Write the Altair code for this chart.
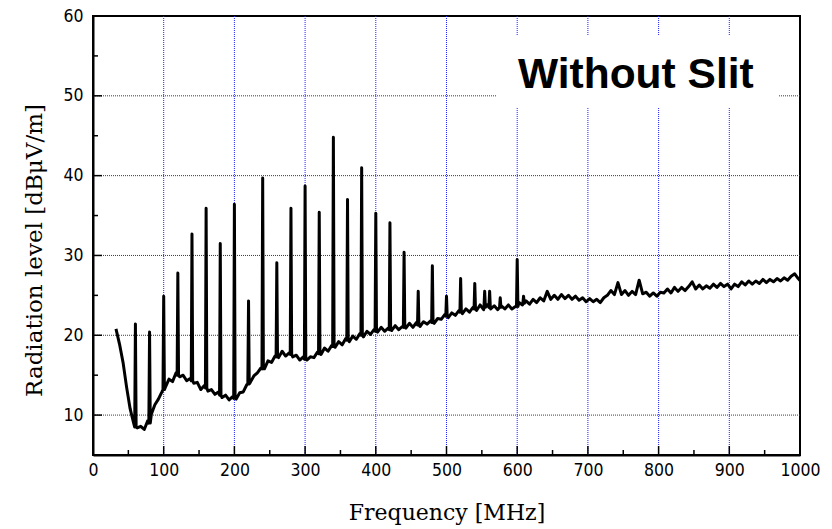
import altair as alt
import numpy as np
import pandas as pd

# Background trace, sampled every 5 MHz starting at 32.5 MHz (dBuV/m)
base_level = [
    20.8, 18.9, 16.6, 13.5, 10.8, 9.0, 8.4, 8.6, 8.2, 9.3,
    10.1, 11.3, 12.0, 12.9, 13.5, 14.5, 14.2, 15.3, 14.8, 15.0,
    14.3, 14.6, 14.0, 14.1, 13.2, 13.7, 13.0, 13.2, 12.6, 12.9,
    12.2, 12.5, 11.9, 12.3, 12.0, 12.8, 12.9, 13.8, 14.1, 14.9,
    15.3, 15.9, 15.8, 16.8, 16.6, 17.4, 17.2, 18.0, 17.4, 17.8,
    17.3, 17.5, 16.9, 17.3, 16.9, 17.3, 17.2, 17.9, 17.6, 18.4,
    18.0, 18.7, 18.5, 19.2, 18.8, 19.6, 19.2, 19.9, 19.5, 20.2,
    19.8, 20.5, 20.1, 20.7, 20.4, 21.0, 20.5, 20.9, 20.6, 21.2,
    20.7, 21.1, 20.9, 21.5, 21.0, 21.6, 21.1, 21.7, 21.4, 21.8,
    21.5, 22.1, 22.0, 22.6, 22.2, 22.8, 22.5, 23.1, 22.7, 23.3,
    22.9, 23.5, 23.1, 23.8, 23.2, 23.8, 23.3, 23.7, 23.2, 23.7,
    23.3, 23.8, 23.3, 23.6, 24.1, 23.8, 24.3, 23.9, 24.5, 24.1,
    24.7, 24.3, 25.5, 24.5, 25.0, 24.5, 25.1, 24.6, 25.0, 24.5,
    24.9, 24.4, 24.7, 24.2, 24.6, 24.2, 24.5, 24.1, 24.7, 25.0,
    25.6, 25.1, 26.6, 25.1, 25.6, 25.0, 25.5, 25.1, 26.9, 25.2,
    25.4, 24.9, 25.3, 24.9, 25.4, 25.3, 25.8, 25.3, 26.0, 25.5,
    26.0, 25.6, 26.1, 26.7, 25.8, 26.3, 25.8, 26.2, 25.9, 26.4,
    26.0, 26.5, 26.1, 26.4, 25.8, 26.4, 26.1, 26.7, 26.3, 26.8,
    26.4, 26.8, 26.5, 27.0, 26.6, 27.0, 26.7, 27.1, 26.8, 27.2,
    26.9, 27.4, 27.7, 27.1, 26.6,
]
base_start = 32.5
base_step = 5.0

# Harmonic spikes (MHz, peak dBuV/m, level at the spike's foot)
peak_freq = [60, 80, 100, 120, 140, 160, 180, 200, 220, 240, 260, 280, 300,
             320, 340, 360, 380, 400, 420, 440, 460, 480, 500, 520, 540,
             554, 561, 576, 600, 609]
peak_level = [21.4, 20.4, 24.9, 27.8, 32.7, 35.9, 31.5, 36.4, 24.3, 39.7,
              29.1, 35.9, 38.7, 35.4, 44.8, 37.0, 41.0, 35.3, 34.1, 30.4,
              25.5, 28.7, 24.9, 27.1, 26.5, 25.5, 25.5, 24.7, 29.5, 24.9]
peak_foot = [8.5, 9.0, 13.2, 15.0, 14.3, 13.4, 12.5, 12.1, 13.9, 15.8,
             17.3, 17.6, 17.0, 17.7, 18.6, 19.4, 20.0, 20.5, 20.7, 21.0,
             21.3, 21.6, 22.4, 22.9, 23.3, 23.5, 23.5, 23.5, 23.6, 24.0]
foot_offset = 1.0  # MHz either side of a spike

# Axis furniture
x_major = [100, 200, 300, 400, 500, 600, 700, 800, 900]
x_minor = [50, 150, 250, 350, 450, 550, 650, 750, 850, 950]
y_major = [10, 20, 30, 40, 50]
y_minor = [15, 25, 35, 45, 55]
x_labels = list(range(0, 1001, 100))
y_labels = [10, 20, 30, 40, 50, 60]

W, H = 707, 439

base_freq = base_start + base_step * np.arange(len(base_level))
pf = np.array(peak_freq, dtype=float)
trace = pd.DataFrame({
    "f": np.concatenate([base_freq, pf - foot_offset, pf, pf + foot_offset]),
    "v": np.concatenate([np.array(base_level), np.array(peak_foot),
                         np.array(peak_level), np.array(peak_foot)]),
}).sort_values("f", kind="stable").reset_index(drop=True)

xs = alt.Scale(domain=[0, 1000], nice=False, zero=False)
ys = alt.Scale(domain=[5, 60], nice=False, zero=False)

TICK_FONT = "Liberation Sans Narrow, Arial Narrow, DejaVu Sans Condensed, Liberation Sans"
TITLE_FONT = "DejaVu Serif, Liberation Serif, serif"
GRID_COLOR = "#2222ff"

x_axis = alt.Axis(values=x_labels, format="d", grid=False, ticks=False, tickSize=0,
                  labelFont=TICK_FONT, labelFontSize=17.5, labelColor="black",
                  labelPadding=6, domainColor="black", domainWidth=2,
                  title="Frequency [MHz]", titleFont=TITLE_FONT,
                  titleFontSize=22, titleFontWeight="normal", titleColor="black",
                  titleBaseline="middle", titleY=57, labelFlush=False)
y_axis = alt.Axis(values=y_labels, format="d", grid=False, ticks=False, tickSize=0,
                  labelFont=TICK_FONT, labelFontSize=17.5, labelColor="black",
                  labelPadding=10, domainColor="black", domainWidth=2,
                  title="Radiation level [dBμV/m]", titleFont=TITLE_FONT,
                  titleFontSize=23, titleFontWeight="normal", titleColor="black",
                  titleBaseline="middle", titleX=-59, titleY=234,
                  titleAlign="center", titleAngle=-90, labelFlush=False)

vgrid = alt.Chart(pd.DataFrame({"x": x_major})).mark_rule(
    color=GRID_COLOR, strokeWidth=1, strokeDash=[1, 1]
).encode(x=alt.X("x:Q", scale=xs, axis=x_axis), y=alt.value(0), y2=alt.value(H))

hgrid = alt.Chart(pd.DataFrame({"y": y_major})).mark_rule(
    color=GRID_COLOR, strokeWidth=1, strokeDash=[1, 1]
).encode(y=alt.Y("y:Q", scale=ys, axis=y_axis), x=alt.value(0), x2=alt.value(W))

box = alt.Chart(pd.DataFrame({"a": [0]})).mark_rect(color="white").encode(
    x=alt.value(404), x2=alt.value(685), y=alt.value(19), y2=alt.value(91)
)
label = alt.Chart(pd.DataFrame({"t": ["Without Slit"]})).mark_text(
    font="Liberation Sans", fontSize=42.5, fontWeight="bold", color="black",
    align="left", baseline="alphabetic"
).encode(text="t:N", x=alt.value(425), y=alt.value(72))

xt_major = alt.Chart(pd.DataFrame({"x": x_major})).mark_rule(
    color="black", strokeWidth=1.5
).encode(x=alt.X("x:Q", scale=xs), y=alt.value(H), y2=alt.value(H - 9))
xt_minor = alt.Chart(pd.DataFrame({"x": x_minor})).mark_rule(
    color="black", strokeWidth=1.5
).encode(x=alt.X("x:Q", scale=xs), y=alt.value(H), y2=alt.value(H - 5))
yt_major = alt.Chart(pd.DataFrame({"y": y_major})).mark_rule(
    color="black", strokeWidth=1.5
).encode(y=alt.Y("y:Q", scale=ys), x=alt.value(0), x2=alt.value(9))
yt_minor = alt.Chart(pd.DataFrame({"y": y_minor})).mark_rule(
    color="black", strokeWidth=1.5
).encode(y=alt.Y("y:Q", scale=ys), x=alt.value(0), x2=alt.value(5))

line = alt.Chart(trace).mark_line(
    color="black", strokeWidth=3, clip=True, strokeJoin="round"
).encode(x=alt.X("f:Q", scale=xs, sort=None), y=alt.Y("v:Q", scale=ys),
         order=alt.Order("f:Q"))

chart = alt.layer(
    vgrid, hgrid, box, label, xt_major, xt_minor, yt_major, yt_minor, line
).properties(
    width=W, height=H,
    autosize=alt.AutoSizeParams(type="none"),
    padding={"left": 93, "top": 16, "right": 32, "bottom": 74},
    background="white",
).configure_view(stroke="black", strokeWidth=2)

chart.save("out.html", embed_options={"renderer": "svg", "actions": False})
